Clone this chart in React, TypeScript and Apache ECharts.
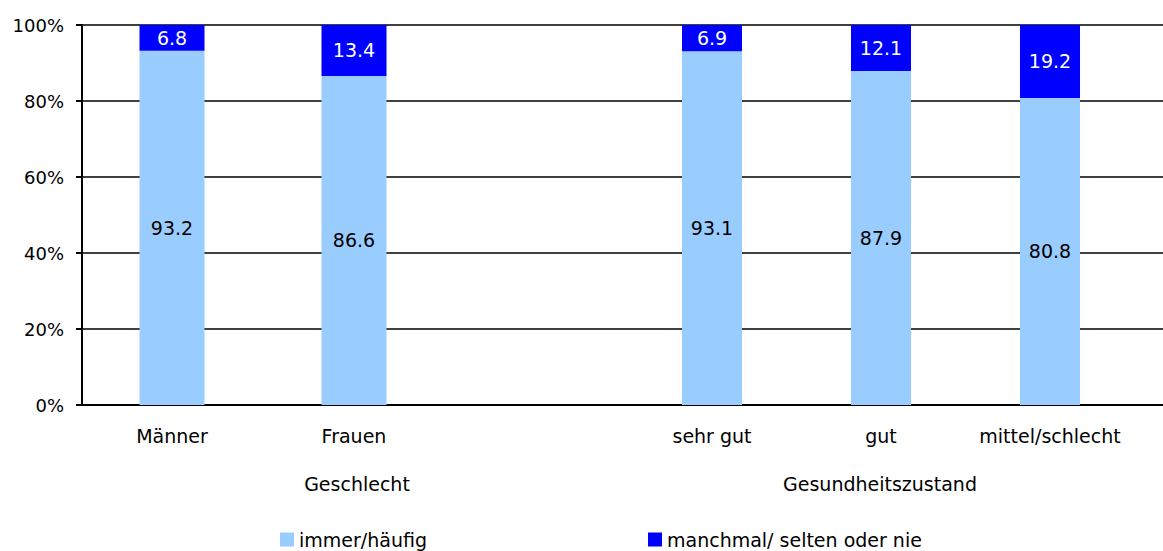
import React, { useEffect, useRef } from "react";
import * as echarts from "echarts";

const genderCategories = ["Männer", "Frauen"];
const healthCategories = ["sehr gut", "gut", "mittel/schlecht"];
const genderOften = [93.2, 86.6];
const genderRarely = [6.8, 13.4];
const healthOften = [93.1, 87.9, 80.8];
const healthRarely = [6.9, 12.1, 19.2];
const groupLabels = ["Geschlecht", "Gesundheitszustand"];
const seriesNames = ["immer/häufig", "manchmal/ selten oder nie"];
const yTicks = [0, 20, 40, 60, 80, 100];

const FONT = "'DejaVu Sans', sans-serif";
const LIGHT = "#99CCFF";
const DARK = "#0000FF";
const FS = 19;

export default function App() {
  const ref = useRef<HTMLDivElement>(null);
  useEffect(() => {
    document.body.style.margin = "0";
    const chart = echarts.init(ref.current!, null, { renderer: "svg" });
    const hiddenY = (gi: number) => ({
      type: "value",
      gridIndex: gi,
      min: yTicks[0],
      max: yTicks[yTicks.length - 1],
      interval: 20,
      show: false,
    });
    const catX = (gi: number, data: string[]) => ({
      type: "category",
      gridIndex: gi,
      data,
      axisLine: { show: false },
      axisTick: { show: false },
      axisLabel: {
        interval: 0,
        hideOverlap: false,
        margin: 21,
        color: "#000",
        fontSize: FS,
        fontFamily: FONT,
      },
    });
    const barLabel = (color: string) => ({
      show: true,
      position: "inside",
      color,
      fontSize: FS,
      fontFamily: FONT,
      formatter: (p: any) => String(p.value),
    });
    const groupText = (x: number, text: string) => ({
      type: "text",
      x,
      y: 484,
      style: {
        text,
        fontSize: FS,
        fontFamily: FONT,
        fill: "#000",
        align: "center",
        verticalAlign: "middle",
      },
    });
    const legendAt = (left: number, name: string) => ({
      left,
      top: 530,
      data: [name],
      icon: "rect",
      itemWidth: 14,
      itemHeight: 14,
      itemGap: 5,
      textStyle: { fontSize: FS, color: "#000", fontFamily: FONT },
      padding: 0,
    });
    chart.setOption({
      animation: false,
      textStyle: { fontFamily: FONT },
      grid: [
        { left: 82, right: 0, top: 25, height: 380 },
        { left: 81, width: 364, top: 25, height: 380 },
        { left: 627.5, width: 507, top: 25, height: 380 },
      ],
      xAxis: [
        {
          type: "category",
          gridIndex: 0,
          data: [""],
          axisLine: { show: true, lineStyle: { color: "#000", width: 2 } },
          axisTick: { show: false },
          axisLabel: { show: false },
        },
        catX(1, genderCategories),
        catX(2, healthCategories),
      ],
      yAxis: [
        {
          type: "value",
          gridIndex: 0,
          min: yTicks[0],
          max: yTicks[yTicks.length - 1],
          interval: 20,
          axisLine: { show: true, lineStyle: { color: "#000", width: 2 } },
          axisTick: { show: true, length: 6, lineStyle: { color: "#000", width: 2 } },
          axisLabel: {
            formatter: "{value}%",
            color: "#000",
            fontSize: 18,
            fontFamily: FONT,
            margin: 18,
          },
          splitLine: { show: true, lineStyle: { color: "#000", width: 1.6 } },
        },
        hiddenY(1),
        hiddenY(2),
      ],
      legend: [legendAt(280, seriesNames[0]), legendAt(648, seriesNames[1])],
      graphic: [groupText(357, groupLabels[0]), groupText(880, groupLabels[1])],
      series: [
        {
          name: seriesNames[0],
          type: "bar",
          xAxisIndex: 1,
          yAxisIndex: 1,
          stack: "g",
          data: genderOften,
          barWidth: 65,
          itemStyle: { color: LIGHT },
          label: barLabel("#000"),
        },
        {
          name: seriesNames[1],
          type: "bar",
          xAxisIndex: 1,
          yAxisIndex: 1,
          stack: "g",
          data: genderRarely,
          barWidth: 65,
          itemStyle: { color: DARK },
          label: barLabel("#fff"),
        },
        {
          name: seriesNames[0],
          type: "bar",
          xAxisIndex: 2,
          yAxisIndex: 2,
          stack: "h",
          data: healthOften,
          barWidth: 60,
          itemStyle: { color: LIGHT },
          label: barLabel("#000"),
        },
        {
          name: seriesNames[1],
          type: "bar",
          xAxisIndex: 2,
          yAxisIndex: 2,
          stack: "h",
          data: healthRarely,
          barWidth: 60,
          itemStyle: { color: DARK },
          label: barLabel("#fff"),
        },
      ],
    });
    return () => chart.dispose();
  }, []);
  return <div ref={ref} style={{ width: 1163, height: 551 }} />;
}
